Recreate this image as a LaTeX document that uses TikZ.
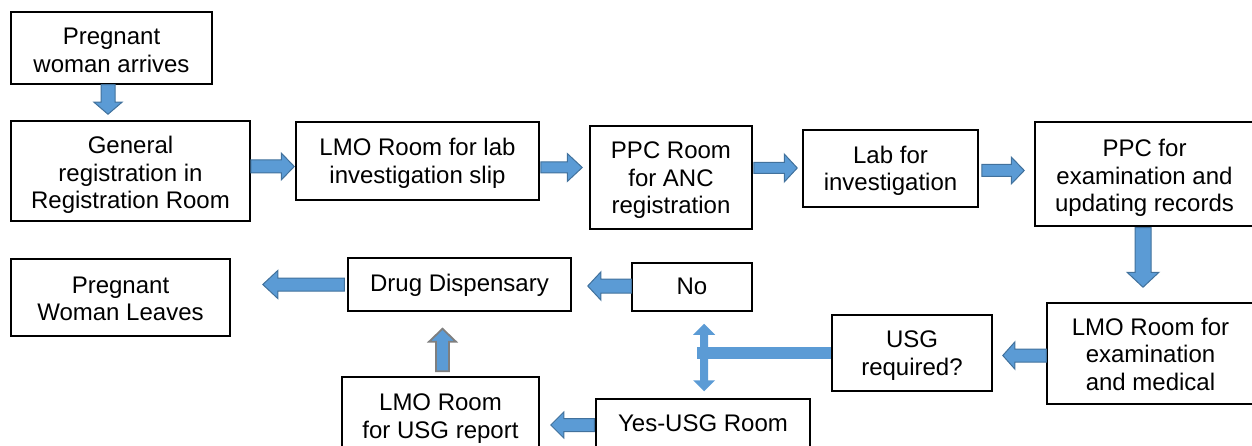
\documentclass[tikz,border=0pt]{standalone}
\usepackage{fontspec}
\setmainfont{Liberation Sans}
\usetikzlibrary{calc}
\definecolor{blkfill}{HTML}{5B9BD5}
\definecolor{blkline}{HTML}{41719C}
\definecolor{grayline}{HTML}{7F7F7F}
% text block whose first baseline lies #1 below the node centre
\newcommand\boxtxt[2]{\raisebox{#1}[0pt][0pt]{\begin{tabular}[t]{@{}c@{}}#2\end{tabular}}}
\tikzset{
  box/.style={draw=black, line width=1.5pt, inner sep=0pt,
    font={\fontsize{24}{27.5}\selectfont}},
  blk/.style={fill=blkfill, draw=blkline, line width=1pt, line join=miter},
  blkgray/.style={fill=blkfill, draw=grayline, line width=1.8pt, line join=miter},
  blkplain/.style={fill=blkfill, draw=none},
  arrR/.style n args={3}{to path={let \p1=(\tikztostart), \p2=(\tikztotarget) in
    (\x1,\y1+#1) -- (\x2-#3,\y1+#1) -- (\x2-#3,\y1+#2) -- (\x2,\y1) -- (\x2-#3,\y1-#2) -- (\x2-#3,\y1-#1) -- (\x1,\y1-#1) -- cycle}},
  arrL/.style n args={3}{to path={let \p1=(\tikztostart), \p2=(\tikztotarget) in
    (\x1,\y1+#1) -- (\x2+#3,\y1+#1) -- (\x2+#3,\y1+#2) -- (\x2,\y1) -- (\x2+#3,\y1-#2) -- (\x2+#3,\y1-#1) -- (\x1,\y1-#1) -- cycle}},
  arrD/.style n args={3}{to path={let \p1=(\tikztostart), \p2=(\tikztotarget) in
    (\x1-#1,\y1) -- (\x1-#1,\y2+#3) -- (\x1-#2,\y2+#3) -- (\x1,\y2) -- (\x1+#2,\y2+#3) -- (\x1+#1,\y2+#3) -- (\x1+#1,\y1) -- cycle}},
  arrU/.style n args={3}{to path={let \p1=(\tikztostart), \p2=(\tikztotarget) in
    (\x1-#1,\y1) -- (\x1-#1,\y2-#3) -- (\x1-#2,\y2-#3) -- (\x1,\y2) -- (\x1+#2,\y2-#3) -- (\x1+#1,\y2-#3) -- (\x1+#1,\y1) -- cycle}},
  arrUD/.style n args={3}{to path={let \p1=(\tikztostart), \p2=(\tikztotarget) in
    (\x1,\y1) -- (\x1+#2,\y1-#3) -- (\x1+#1,\y1-#3) -- (\x1+#1,\y2+#3) -- (\x1+#2,\y2+#3) -- (\x1,\y2) -- (\x1-#2,\y2+#3) -- (\x1-#1,\y2+#3) -- (\x1-#1,\y1-#3) -- (\x1-#2,\y1-#3) -- cycle}},
  barH/.style={to path={let \p1=(\tikztostart), \p2=(\tikztotarget) in
    (\x1,\y1+#1) -- (\x2,\y1+#1) -- (\x2,\y1-#1) -- (\x1,\y1-#1) -- cycle}},
}
\begin{document}
\begin{tikzpicture}[x=1pt,y=-1pt]
\useasboundingbox (0,0) rectangle (1252,446);
\clip (0,0) rectangle (1252,446);

\node[box, minimum width=201pt, minimum height=72pt] (arrive) at (111.5,48) {\boxtxt{3pt}{Pregnant\\woman arrives}};
\node[box, minimum width=239pt, minimum height=100pt] (reg) at (130.5,171) {\boxtxt{17pt}{General\\registration in\\Registration Room}};
\node[box, minimum width=243pt, minimum height=78pt] (lmo1) at (417.5,161) {\boxtxt{5pt}{LMO Room for lab\\investigation slip}};
\node[box, minimum width=162pt, minimum height=103pt] (ppc1) at (671,177.5) {\boxtxt{18.5pt}{PPC Room\\for ANC\\registration}};
\node[box, minimum width=175pt, minimum height=77pt] (lab) at (890.5,168.5) {\boxtxt{5.2pt}{Lab for\\investigation}};
\node[box, minimum width=219pt, minimum height=104pt] (ppc2) at (1144.5,174) {\boxtxt{17.3pt}{PPC for\\examination and\\updating records}};
\node[box, minimum width=207pt, minimum height=101pt] (lmo2) at (1150.5,353.5) {\boxtxt{18.5pt}{LMO Room for\\examination\\and medical}};
\node[box, minimum width=160pt, minimum height=76pt] (usg) at (912,353) {\boxtxt{5.3pt}{USG\\required?}};
\node[box, minimum width=214pt, minimum height=50pt] (yes) at (703,424) {\boxtxt{-7.7pt}{Yes-USG Room}};
\node[box, minimum width=120pt, minimum height=48pt] (no) at (692,287) {\boxtxt{-8pt}{No}};
\node[box, minimum width=223pt, minimum height=53pt] (drug) at (459.5,284.5) {\boxtxt{-6.5pt}{Drug Dispensary}};
\node[box, minimum width=197pt, minimum height=78pt] (lmousg) at (440.5,416) {\boxtxt{5.3pt}{LMO Room\\for USG report}};
\node[box, minimum width=219pt, minimum height=77pt] (leaves) at (120.5,297.5) {\boxtxt{4.2pt}{Pregnant\\Woman Leaves}};

\draw[blk, arrD={7pt}{14pt}{12pt}] ([xshift=-3.5pt]arrive.south) to ([yshift=6pt]reg.north);
\draw[blk, arrR={6.5pt}{13.5pt}{13pt}] ([yshift=4.5pt]reg.east) to ([xshift=-1pt]lmo1.west);
\draw[blk, arrR={5.5pt}{14pt}{15pt}] ([xshift=1pt,yshift=-6.5pt]lmo1.east) to ([xshift=-7pt]ppc1.west);
\draw[blk, arrR={5.5pt}{14pt}{13pt}] ([xshift=1pt,yshift=9.5pt]ppc1.east) to ([xshift=-5pt]lab.west);
\draw[blk, arrR={6pt}{13.5pt}{13pt}] ([xshift=3pt,yshift=-2pt]lab.east) to ([xshift=-10pt]ppc2.west);
\draw[blk, arrD={8pt}{16pt}{15pt}] ([xshift=-1.5pt,yshift=-1pt]ppc2.south) to ([yshift=15pt]lmo2.north);
\draw[blk, arrL={6.5pt}{13.5pt}{12pt}] ([yshift=-2pt]lmo2.west) to ([xshift=10pt]usg.east);
\draw[blkplain, barH=6pt] (usg.west) to ([xshift=5pt,yshift=-12pt]no.south);
\draw[blkplain, arrUD={4pt}{11pt}{11pt}] ([xshift=12pt,yshift=-12pt]no.south) to ([yshift=7pt]yes.north);
\draw[blk, arrL={7pt}{14pt}{13pt}] ([yshift=1pt]no.west) to ([xshift=16pt]drug.east);
\draw[blk, arrL={6.5pt}{14pt}{15pt}] ([xshift=-3pt]drug.west) to ([xshift=32pt]leaves.east);
\draw[blkgray, arrU={6.5pt}{13.5pt}{13pt}] ([xshift=2pt,yshift=5pt]lmousg.north) to ([yshift=-17pt]drug.south);
\draw[blk, arrL={6.5pt}{13pt}{13pt}] ([xshift=-1pt,yshift=-1pt]yes.west) to ([xshift=11pt]lmousg.east);
\end{tikzpicture}
\end{document}
